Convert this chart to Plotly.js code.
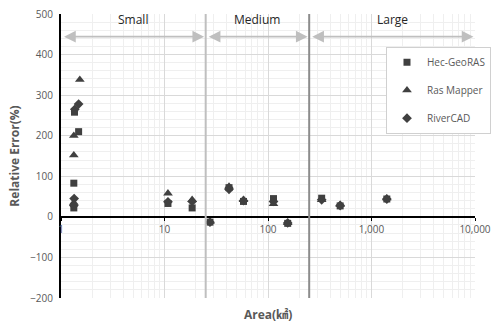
<!DOCTYPE html>
<html>
<head>
<meta charset="utf-8">
<script src="https://cdn.plot.ly/plotly-3.0.1.min.js"></script>
<style>html,body{margin:0;padding:0;background:#fff;}#chart{width:492px;height:323px;}</style>
</head>
<body>
<div id="chart"></div>
<script>
// Data
const seriesNames = ['Hec-GeoRAS', 'Ras Mapper', 'RiverCAD'];
const hecX = [1.33, 1.35, 1.48, 1.33, 10.8, 18.5, 27.5, 42, 58, 113, 155, 330, 498, 1406];
const hecY = [83, 258, 210, 22, 33, 22, -13, 72, 38, 45, -16, 46, 27, 44];
const rasX = [1.52, 1.33, 1.33, 1.33, 10.8, 18.5, 27.5, 42, 58, 113, 155, 330, 498, 1406];
const rasY = [338, 200, 152, 35, 58, 42, -12, 75, 42, 32, -15, 42, 30, 46];
const rivX = [1.36, 1.48, 1.34, 1.33, 10.8, 18.5, 27.5, 42, 58, 113, 155, 330, 498, 1406];
const rivY = [265, 278, 45, 28, 37, 38, -13, 68, 40, 38, -15, 42, 28, 44];
const regionNames = ['Small', 'Medium', 'Large'];
const regionBounds = [1, 25, 250, 10000];
const xTickVals = [1, 10, 100, 1000, 10000];
const xTickText = ['1', '10', '100', '1,000', '10,000'];

const lg = v => Math.log10(v);
const markerColor = '#404040';
const symbols = ['square', 'triangle-up', 'diamond'];
const sizes = [7, 8.5, 7.5];
const xs = [hecX, rasX, rivX], ys = [hecY, rasY, rivY];

const traces = seriesNames.map((n, i) => ({
  type: 'scatter', mode: 'markers', name: n, x: xs[i], y: ys[i],
  legendgroup: 'g' + i,
  marker: {symbol: symbols[i], color: markerColor, size: sizes[i]}
}));

const yMin = -200, yMax = 500, arrowY = 444, labelY = 486;

const shapes = [
  {type: 'line', xref: 'x', yref: 'paper', x0: regionBounds[1], x1: regionBounds[1], y0: 0, y1: 1,
   line: {color: '#bfbfbf', width: 2}, layer: 'above'},
  {type: 'line', xref: 'x', yref: 'paper', x0: regionBounds[2], x1: regionBounds[2], y0: 0, y1: 1,
   line: {color: '#8c8c8c', width: 2}, layer: 'above'}
];

const annotations = [];
regionNames.forEach((r, i) => {
  const a = lg(regionBounds[i]), b = lg(regionBounds[i + 1]);
  annotations.push({
    xref: 'x', yref: 'y', axref: 'x', ayref: 'y',
    x: b - 0.015, y: arrowY, ax: a + 0.015, ay: arrowY,
    showarrow: true, arrowside: 'end+start', arrowhead: 2, arrowsize: 1.3,
    arrowwidth: 1.8, arrowcolor: '#bfbfbf', text: ''
  });
  annotations.push({
    xref: 'x', yref: 'y', x: (a + b) / 2, y: labelY, text: r, showarrow: false,
    font: {family: 'Open Sans, sans-serif', size: 12, color: '#262626'}
  });
});

const layout = {
  width: 492, height: 323,
  margin: {l: 61, r: 17, t: 14, b: 25, autoexpand: false},
  paper_bgcolor: '#fff', plot_bgcolor: '#fff',
  showlegend: true,
  legend: {
    x: 0.785, y: 0.885, xanchor: 'left', yanchor: 'top',
    bgcolor: '#fff', bordercolor: '#d0d0d0', borderwidth: 1,
    font: {family: 'Open Sans, sans-serif', size: 10, color: '#595959'},
    tracegroupgap: 9, itemwidth: 30
  },
  xaxis: {
    type: 'log', range: [0, 4], automargin: false,
    tickvals: xTickVals, ticktext: xTickText,
    anchor: 'free', position: (0 - yMin) / (yMax - yMin),
    showline: true, linecolor: '#000', linewidth: 2,
    ticks: 'outside', ticklen: 3, tickcolor: '#000', tickwidth: 1,
    tickfont: {family: 'Open Sans, sans-serif', size: 10, color: '#595959'},
    showgrid: true, gridcolor: '#d9d9d9', gridwidth: 1,
    minor: {dtick: 'D1', showgrid: true, gridcolor: '#efefef', ticks: ''},
    zeroline: false,
    title: {text: ''}
  },
  yaxis: {
    range: [yMin, yMax], dtick: 100, tick0: 0, automargin: false,
    showline: true, linecolor: '#000', linewidth: 2,
    ticks: '', showgrid: true, gridcolor: '#d9d9d9', gridwidth: 1,
    minor: {dtick: 20, showgrid: true, gridcolor: '#efefef', ticks: ''},
    zeroline: false,
    tickfont: {family: 'Open Sans, sans-serif', size: 10, color: '#595959'},
    ticklabelstandoff: 4,
    title: {text: 'Relative Error(%)', standoff: 8,
      font: {family: 'Open Sans, sans-serif', size: 12, color: '#595959', weight: 'bold'}}
  },
  shapes: shapes,
  annotations: annotations.concat([{
    xref: 'paper', yref: 'paper', x: 0.5, y: 0, yshift: -6, yanchor: 'top',
    xanchor: 'center', text: 'Area(㎢)', showarrow: false,
    font: {family: 'Open Sans, Noto Sans CJK KR, sans-serif', size: 12, color: '#595959', weight: 'bold'}
  }])
};

Plotly.newPlot('chart', traces, layout, {displayModeBar: false, staticPlot: true});
</script>
</body>
</html>
